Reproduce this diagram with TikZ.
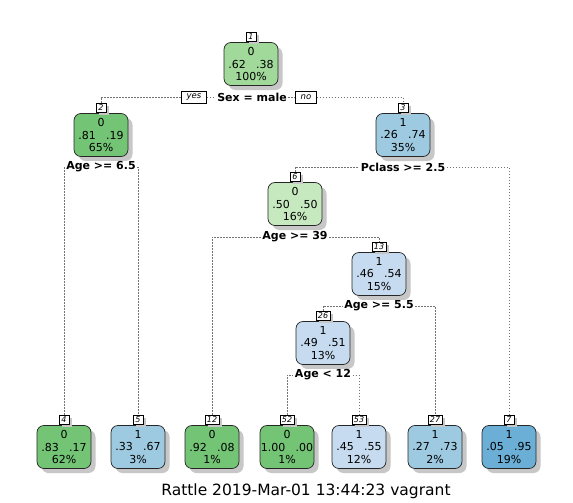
\documentclass[tikz,border=0pt]{standalone}
\usepackage{fontspec}
\setmainfont{DejaVu Sans}
\usetikzlibrary{shadows}
\definecolor{cgA}{HTML}{A1D99B}
\definecolor{cgB}{HTML}{74C476}
\definecolor{cgC}{HTML}{C7E9C0}
\definecolor{cbA}{HTML}{9ECAE1}
\definecolor{cbB}{HTML}{C6DBEF}
\definecolor{cbC}{HTML}{6BAED6}
\tikzset{
  treenode/.style={draw=black!85, line width=0.7pt, rounded corners=7pt,
    minimum width=54pt, minimum height=43pt, inner sep=0pt, align=center,
    font=\fontsize{11}{12.5}\selectfont,
    drop shadow={shadow xshift=4.5pt, shadow yshift=-4.5pt, fill=black!22, opacity=1}},
  lbl/.style={draw=black, line width=0.5pt, fill=white, anchor=south,
    inner xsep=2pt, inner ysep=0pt, minimum height=9pt, minimum width=9.5pt,
    font=\fontsize{8}{8.5}\selectfont\itshape,
    drop shadow={shadow xshift=3pt, shadow yshift=-3pt, fill=black!22, opacity=1}},
  yn/.style={draw=black, line width=0.5pt, fill=white,
    inner xsep=5pt, inner ysep=0pt, minimum height=12pt,
    font=\fontsize{8.5}{9}\selectfont\itshape},
  spl/.style={fill=white, inner xsep=1.5pt, inner ysep=1pt,
    font=\fontsize{11}{12}\selectfont\bfseries},
  conn/.style={draw=black!55, line width=0.7pt, dash pattern=on 1.2pt off 1.8pt},
}
\newcommand{\pr}[2]{#1\hspace{0.95em}#2}
\begin{document}
\begin{tikzpicture}[x=1pt,y=-1pt]
\useasboundingbox[fill=white] (0,0) rectangle (573,503);
% inner nodes
\node[treenode, fill=cgA] (n1) at (251,64) {0\\\pr{.62}{.38}\\100\%};
\node[treenode, fill=cgB] (n2) at (101,135) {0\\\pr{.81}{.19}\\65\%};
\node[treenode, fill=cbA] (n3) at (403,135) {1\\\pr{.26}{.74}\\35\%};
\node[treenode, fill=cgC] (n6) at (295,204) {0\\\pr{.50}{.50}\\16\%};
\node[treenode, fill=cbB] (n13) at (379,274) {1\\\pr{.46}{.54}\\15\%};
\node[treenode, fill=cbB] (n26) at (323,343) {1\\\pr{.49}{.51}\\13\%};
% leaves
\node[treenode, fill=cgB] (n4) at (64,447) {0\\\pr{.83}{.17}\\62\%};
\node[treenode, fill=cbA] (n5) at (138,447) {1\\\pr{.33}{.67}\\3\%};
\node[treenode, fill=cgB] (n12) at (212,447) {0\\\pr{.92}{.08}\\1\%};
\node[treenode, fill=cgB] (n52) at (287,447) {0\\\pr{1.00}{.00}\\1\%};
\node[treenode, fill=cbB] (n53) at (359,447) {1\\\pr{.45}{.55}\\12\%};
\node[treenode, fill=cbA] (n27) at (435,447) {1\\\pr{.27}{.73}\\2\%};
\node[treenode, fill=cbC] (n7) at (509,447) {1\\\pr{.05}{.95}\\19\%};
% number labels
\foreach \n in {1,2,3,4,5,6,7,12,13,26,27,52,53}
  \node[lbl] (l\n) at ([yshift=1pt]n\n.north) {\n};
% split labels
\node[spl] (s1) at (252,97) {Sex = male};
\node[yn] (yes) at (194,97) {yes};
\node[yn] (no) at (306,97) {no};
\node[spl] (s2) at (101,167) {Age >= 6.5};
\node[spl] (s3) at (403,167) {Pclass >= 2.5};
\node[spl] (s6) at (295,237) {Age >= 39};
\node[spl] (s13) at (379,306) {Age >= 5.5};
\node[spl] (s26) at (323,375) {Age < 12};
% connectors
\draw[conn] (l2.north) |- (yes);
\draw[conn] (yes) -- (s1);
\draw[conn] (s1) -- (no);
\draw[conn] (no) -| (l3.north);
\draw[conn] (l4.north) |- (s2);
\draw[conn] (s2) -| (l5.north);
\draw[conn] (l6.north) |- (s3);
\draw[conn] (s3) -| (l7.north);
\draw[conn] (l12.north) |- (s6);
\draw[conn] (s6) -| (l13.north);
\draw[conn] (l26.north) |- (s13);
\draw[conn] (s13) -| (l27.north);
\draw[conn] (l52.north) |- (s26);
\draw[conn] (s26) -| (l53.north);
% title
\node[font=\fontsize{15.5}{18}\selectfont] (title) at (306,491) {Rattle 2019-Mar-01 13:44:23 vagrant};
\end{tikzpicture}
\end{document}
